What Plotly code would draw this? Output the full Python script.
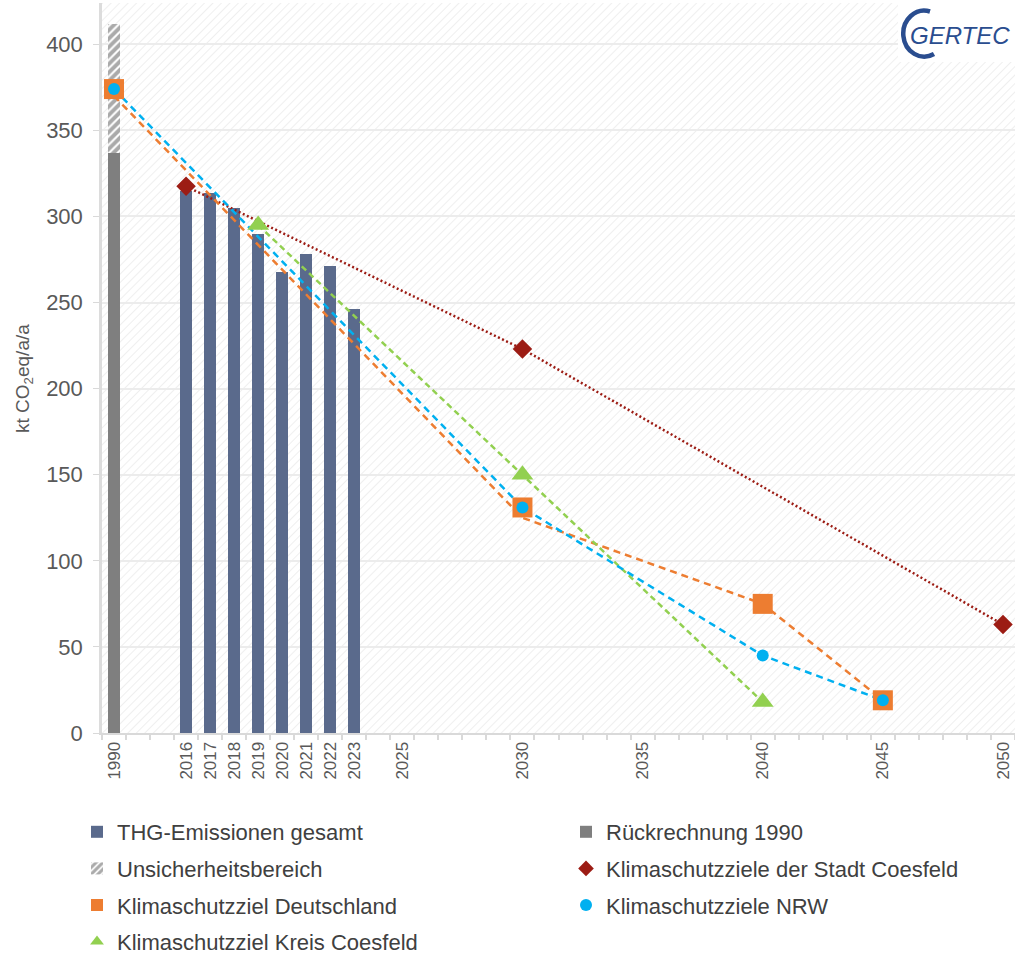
import base64
import plotly.graph_objects as go

# ---------------- data ----------------
thg_years = [2016, 2017, 2018, 2019, 2020, 2021, 2022, 2023]
thg_values = [315, 313.5, 305, 290, 268, 278.5, 271, 246.5]

rueck_years = [1990]
rueck_values = [337]

unsicher_years = [1990]
unsicher_values = [75]          # stacked on top of 337 -> 412

stadt_years = [2016, 2030, 2050]
stadt_values = [317.5, 223, 63]

de_years = [1990, 2030, 2040, 2045]
de_values = [374, 131, 75, 19]          # markers
de_line_values = [370, 125, 75, 19]     # dashed line as drawn in the reference

nrw_years = [1990, 2030, 2040, 2045]
nrw_values = [374, 131, 45, 19]

kreis_years = [2019, 2030, 2040]
kreis_values = [295, 150, 18]

tick_years = [1990, 2016, 2017, 2018, 2019, 2020, 2021, 2022, 2023,
              2025, 2030, 2035, 2040, 2045, 2050]

# broken time axis: 1990 is shown in the slot just left of 2014
AXIS_SLOT_1990 = 2013


def axis_pos(years):
    return [AXIS_SLOT_1990 if y == 1990 else y for y in years]


FONT = "Liberation Sans"
TICK_COL = "#595959"
TEXT_COL = "#404040"

fig = go.Figure()

# bars
fig.add_trace(go.Bar(
    x=axis_pos(thg_years), y=thg_values, width=0.5,
    name="THG-Emissionen gesamt", marker=dict(color="#5a6a8c", line=dict(width=0)),
    legend="legend", legendgroup="thg", legendrank=1))
fig.add_trace(go.Bar(
    x=axis_pos(rueck_years), y=rueck_values, width=0.5,
    name="Rückrechnung 1990", marker=dict(color="#7f7f7f", line=dict(width=0)),
    legend="legend2", legendgroup="rueck", legendrank=1))
fig.add_trace(go.Bar(
    x=axis_pos(unsicher_years), y=unsicher_values, width=0.5,
    name="Unsicherheitsbereich",
    marker=dict(color="white", line=dict(width=0),
                pattern=dict(shape="/", fgcolor="#555555", bgcolor="white",
                             size=6, solidity=0.65)),
    legend="legend", legendgroup="unsich", legendrank=2))

# target series: (name, years, line values, marker values, colour, dash,
#                 symbol, marker size, legend, rank)
series = [
    ("Klimaschutzziele der Stadt Coesfeld", stadt_years, stadt_values, stadt_values,
     "#9c1c14", "2px,2.5px", "diamond", 15, "legend2", 2),
    ("Klimaschutzziel Deutschland", de_years, de_line_values, de_values,
     "#ed7d31", "7px,5px", "square", 20, "legend", 3),
    ("Klimaschutzziel Kreis Coesfeld", kreis_years, kreis_values, kreis_values,
     "#92d050", "6px,4px", "triangle-up", 19, "legend", 4),
    ("Klimaschutzziele NRW", nrw_years, nrw_values, nrw_values,
     "#00b0f0", "7px,5px", "circle", 12, "legend2", 3),
]

for name, yrs, lvals, mvals, col, dash, sym, size, leg, rank in series:
    fig.add_trace(go.Scatter(
        x=axis_pos(yrs), y=lvals, mode="lines", showlegend=False,
        line=dict(color=col, width=2.5, dash=dash), legendgroup=name,
        hoverinfo="skip"))
for name, yrs, lvals, mvals, col, dash, sym, size, leg, rank in series:
    fig.add_trace(go.Scatter(
        x=axis_pos(yrs), y=mvals, mode="markers", name=name,
        marker=dict(color=col, symbol=sym, size=size, line=dict(width=0)),
        legend=leg, legendgroup=name, legendrank=rank))

# ---------------- background hatch & logo box ----------------
bg_svg = ("<svg xmlns='http://www.w3.org/2000/svg' width='913' height='730'>"
          "<defs><pattern id='p' width='6' height='6' patternUnits='userSpaceOnUse' "
          "patternTransform='rotate(45)'>"
          "<line x1='0' y1='0' x2='0' y2='6' stroke='#ebebeb' stroke-width='1.6'/>"
          "</pattern></defs><rect width='100%' height='100%' fill='url(#p)'/></svg>")
logo_svg = ("<svg xmlns='http://www.w3.org/2000/svg' width='118' height='59'>"
            "<rect width='118' height='59' fill='white'/>"
            "<path d='M 32 8.5 A 21 23 0 1 0 36 51' fill='none' "
            "stroke='#2a4d8f' stroke-width='4.5'/></svg>")


def uri(svg):
    return "data:image/svg+xml;base64," + base64.b64encode(svg.encode()).decode()


PW, PH = 913, 730  # plot area size in px (left 102, top 3)

fig.update_layout(
    images=[
        dict(source=uri(bg_svg), xref="paper", yref="paper", x=0, y=1,
             sizex=1, sizey=1, xanchor="left", yanchor="top",
             sizing="stretch", layer="below"),
        dict(source=uri(logo_svg), xref="paper", yref="paper",
             x=(898 - 102) / PW, y=1, sizex=118 / PW, sizey=59 / PH,
             xanchor="left", yanchor="top", sizing="stretch", layer="above"),
    ],
    annotations=[
        dict(text="GERTEC", xref="paper", yref="paper",
             x=(960 - 102) / PW, y=(733 - 36) / PH,
             xanchor="center", yanchor="middle", showarrow=False,
             font=dict(family=FONT, size=24, color="#2a4d8f", style="italic")),
        dict(text="kt CO<sub>2</sub>eq/a/a", xref="paper", yref="paper",
             x=(24 - 102) / PW, y=(733 - 379) / PH, textangle=-90,
             xanchor="center", yanchor="middle", showarrow=False,
             font=dict(family=FONT, size=19, color=TICK_COL)),
    ],
)

fig.update_layout(
    width=1015, height=953, autosize=False,
    margin=dict(l=102, r=0, t=3, b=220, autoexpand=False),
    paper_bgcolor="white", plot_bgcolor="rgba(0,0,0,0)",
    barmode="stack", bargap=0,
    font=dict(family=FONT, color=TICK_COL),
    showlegend=True,
    legend=dict(x=(77 - 102) / PW, y=(733 - 811) / PH, xanchor="left",
                yanchor="top", orientation="v", tracegroupgap=5,
                font=dict(family=FONT, size=22, color=TEXT_COL),
                bgcolor="rgba(0,0,0,0)", itemsizing="constant"),
    legend2=dict(x=(566 - 102) / PW, y=(733 - 811) / PH, xanchor="left",
                 yanchor="top", orientation="v", tracegroupgap=5,
                 font=dict(family=FONT, size=22, color=TEXT_COL),
                 bgcolor="rgba(0,0,0,0)", itemsizing="constant"),
)

fig.update_xaxes(
    range=[2012.5, 2050.5], tickmode="array", automargin=False,
    tickvals=axis_pos(tick_years), ticktext=[str(y) for y in tick_years],
    tickangle=-90, tickfont=dict(family=FONT, size=17, color=TICK_COL),
    ticks="", showgrid=False, zeroline=False,
    showline=True, linecolor="#d9d9d9", linewidth=2,
    minor=dict(tickmode="linear", tick0=2012.5, dtick=1, ticks="outside",
               ticklen=5, tickcolor="#d9d9d9", tickwidth=1.5, showgrid=False),
)
fig.update_yaxes(
    range=[0, 424], tickmode="linear", tick0=0, dtick=50, automargin=False,
    tickfont=dict(family=FONT, size=22, color=TICK_COL),
    ticks="outside", ticklen=6, tickcolor="#d9d9d9", ticklabelstandoff=6,
    showgrid=True, gridcolor="#ececec", gridwidth=1.5, zeroline=False,
    showline=True, linecolor="#dcdcdc", linewidth=2.5,
)

# remove the default 8px page margin so the figure fills the window exactly
fig.write_html("out.html", config={"displayModeBar": False},
               post_script="document.body.style.margin='0';"
                           "document.body.style.overflow='hidden';")
